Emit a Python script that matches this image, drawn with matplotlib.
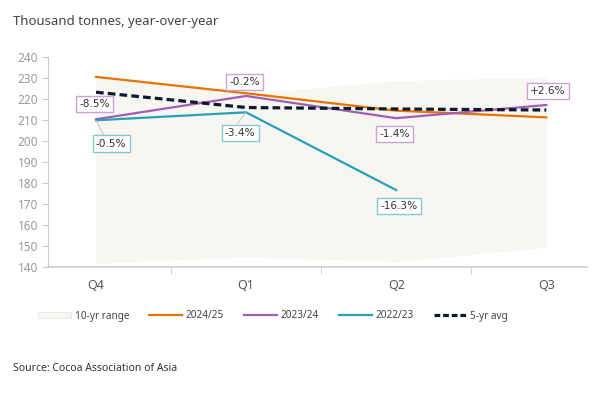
import numpy as np
import matplotlib
matplotlib.use("Agg")
import matplotlib.pyplot as plt
from matplotlib.patches import Patch
from matplotlib.lines import Line2D

plt.rcParams["font.family"] = ["Noto Sans", "DejaVu Sans"]

quarters = ["Q4", "Q1", "Q2", "Q3"]
range_low = [141.6, 144.8, 142.4, 149.3]
range_high = [230.6, 222.5, 228.8, 230.4]
s2425 = [230.6, 222.8, 214.5, 211.3]
s2324 = [210.4, 221.5, 210.9, 217.2]
s2223 = [209.9, 213.7, 176.6]
avg5 = [223.3, 216.0, 215.3, 214.8]

# (quarter index, text, label x, label y)
labels_2324 = [(0, "-8.5%", -0.01, 217.6), (1, "-0.2%", 0.99, 228.2),
               (2, "-1.4%", 1.99, 203.4), (3, "+2.6%", 3.01, 223.8)]
labels_2223 = [(0, "-0.5%", 0.10, 198.8), (1, "-3.4%", 0.96, 203.8),
               (2, "-16.3%", 2.02, 169.0)]

c_orange = "#E87200"
c_purple = "#A35DB8"
c_teal = "#2A9FBA"
c_avg = "#0B1A2E"
c_range = "#F7F6F1"

fig = plt.figure(figsize=(6, 4), dpi=100)
ax = fig.add_axes([0.08, 0.333, 0.898, 0.524])

x = np.arange(len(quarters))
ax.fill_between(x, range_low, range_high, color=c_range, lw=0, zorder=1)
ax.plot(x, s2425, color=c_orange, lw=1.6, zorder=3)
ax.plot(x, s2324, color=c_purple, lw=1.6, zorder=3)
ax.plot(x[:len(s2223)], s2223, color=c_teal, lw=1.6, zorder=3)
ax.plot(x, avg5, color=c_avg, lw=2.3, dashes=(2.4, 1.3), zorder=4)

for i, txt, lx, ly in labels_2324:
    ax.text(lx, ly, txt, ha="center", va="center", fontsize=7.6,
            family="DejaVu Sans", color="#333333", zorder=6,
            bbox=dict(boxstyle="square,pad=0.3", fc="white", ec="#C9A2D8", lw=1))
for i, txt, lx, ly in labels_2223:
    if i < 2:
        ax.plot([x[i], lx - 0.02 if i == 1 else lx - 0.05],
                [s2223[i], ly + 4.2], color="#BBBBBB", lw=0.6, zorder=5)
    ax.text(lx, ly, txt, ha="center", va="center", fontsize=7.6,
            family="DejaVu Sans", color="#333333", zorder=6,
            bbox=dict(boxstyle="square,pad=0.3", fc="white", ec="#86C8D6", lw=1))

ax.set_xlim(-0.32, 3.27)
ax.set_ylim(140, 240)
ax.set_yticks(np.arange(140, 241, 10))
ax.set_xticks(x)
ax.set_xticklabels(quarters)
ax.set_xticks([0.5, 1.5, 2.5], minor=True)
ax.tick_params(axis="x", which="major", length=0, pad=9, labelsize=9, labelcolor="#555555")
ax.tick_params(axis="x", which="minor", length=5, color="#CCCCCC", direction="out")
ax.tick_params(axis="y", length=4, color="#CCCCCC", labelsize=8.5, labelcolor="#999999", pad=3)
for s in ["top", "right"]:
    ax.spines[s].set_visible(False)
ax.spines["left"].set_color("#CCCCCC")
ax.spines["bottom"].set_color("#CCCCCC")
ax.spines["bottom"].set_linewidth(1.2)

fig.text(0.021, 0.945, "Thousand tonnes, year-over-year", fontsize=9.5, color="#444444", va="center")
fig.text(0.021, 0.078, "Source: Cocoa Association of Asia", fontsize=7.5, color="#333333", va="center")

handles = [
    Patch(facecolor=c_range, edgecolor="#E4E2DA", lw=0.5),
    Line2D([], [], color=c_orange, lw=1.6),
    Line2D([], [], color=c_purple, lw=1.6),
    Line2D([], [], color=c_teal, lw=1.6),
    Line2D([], [], color=c_avg, lw=2.3, dashes=(1.8, 0.9)),
]
fig.legend(handles, ["10-yr range", "2024/25", "2023/24", "2022/23", "5-yr avg"],
           loc="center", bbox_to_anchor=(0.455, 0.21), ncol=5, frameon=False,
           fontsize=7.2, handlelength=3.3, handleheight=0.5, columnspacing=2.0,
           handletextpad=0.35, labelcolor="#444444")

fig.savefig("out.png", dpi=100)
